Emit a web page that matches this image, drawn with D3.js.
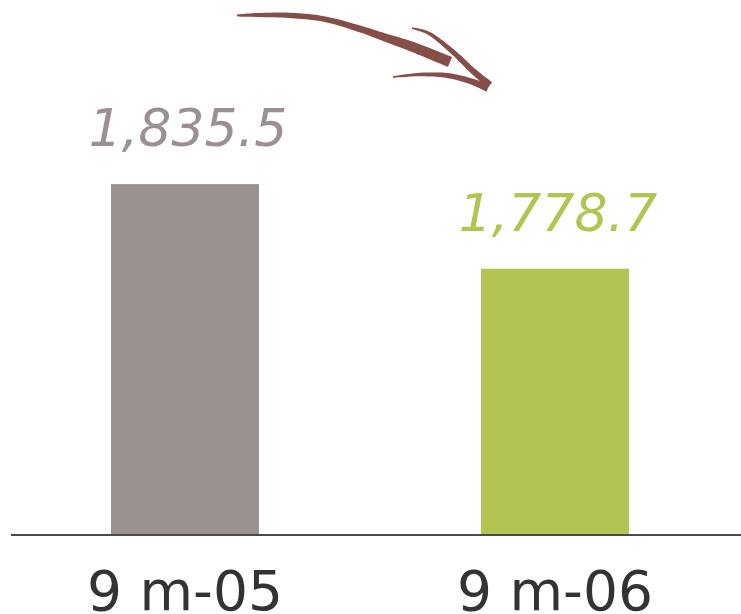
<!DOCTYPE html>
<html>
<head>
<meta charset="utf-8">
<script src="https://cdn.jsdelivr.net/npm/d3@7"></script>
<style>
  html, body { margin: 0; padding: 0; background: #fff; }
  svg { display: block; }
</style>
</head>
<body>
<svg id="chart" width="741" height="614"></svg>
<script>
// Nine-month totals, 2005 vs 2006
const periods = ["9 m-05", "9 m-06"];
const totals = [1835.5, 1778.7];
const barColors = ["#9b9191", "#b3c452"];
const valueLabels = ["1,835.5", "1,778.7"];

const W = 741, H = 614;
const baseY = 535;

const svg = d3.select("#chart");

const x = d3.scaleBand()
  .domain(periods)
  .range([0, 740])
  .paddingInner(0.6)
  .paddingOuter(0.3);

// Value axis starts at 1,600 (truncated), not drawn
const y = d3.scaleLinear()
  .domain([1600, 1900])
  .range([baseY, 88]);

const rows = periods.map((p, i) => ({ p, v: totals[i], c: barColors[i], lab: valueLabels[i] }));

// Bars
svg.append("g").selectAll("rect")
  .data(rows)
  .join("rect")
  .attr("x", d => x(d.p))
  .attr("y", d => y(d.v))
  .attr("width", x.bandwidth())
  .attr("height", d => baseY - y(d.v))
  .attr("fill", d => d.c);

// Value labels above bars
svg.append("g").selectAll("text")
  .data(rows)
  .join("text")
  .attr("x", d => x(d.p) + x.bandwidth() / 2 + 3)
  .attr("y", d => y(d.v) - 38)
  .attr("text-anchor", "middle")
  .attr("font-family", "'DejaVu Sans', Verdana, sans-serif")
  .attr("font-style", "italic")
  .attr("font-size", 52)
  .attr("fill", d => d.c)
  .text(d => d.lab);

// Baseline
svg.append("line")
  .attr("x1", 11).attr("x2", W)
  .attr("y1", baseY).attr("y2", baseY)
  .attr("stroke", "#4a4a4a")
  .attr("stroke-width", 2);

// Category axis
const axis = svg.append("g")
  .attr("transform", `translate(0,${baseY})`)
  .call(d3.axisBottom(x).tickSize(0).tickPadding(0));
axis.select(".domain").remove();
axis.selectAll("text")
  .attr("y", 75)
  .attr("dy", 0)
  .attr("font-family", "'DejaVu Sans', Verdana, sans-serif")
  .attr("font-size", 55)
  .attr("fill", "#333333");

// Hand-drawn style downward arrow between the two bars.
// Each stroke: a smooth centreline (Catmull-Rom) with a varying width.
function catmull(points, widths, steps) {
  const out = [], ws = [];
  const n = points.length;
  for (let i = 0; i < n - 1; i++) {
    const p0 = points[Math.max(0, i - 1)], p1 = points[i],
          p2 = points[i + 1], p3 = points[Math.min(n - 1, i + 2)];
    for (let s = 0; s < steps; s++) {
      const t = s / steps, t2 = t * t, t3 = t2 * t;
      const f = k => 0.5 * ((2 * p1[k]) + (-p0[k] + p2[k]) * t +
        (2 * p0[k] - 5 * p1[k] + 4 * p2[k] - p3[k]) * t2 +
        (-p0[k] + 3 * p1[k] - 3 * p2[k] + p3[k]) * t3);
      out.push([f(0), f(1)]);
      ws.push(widths[i] + (widths[i + 1] - widths[i]) * t);
    }
  }
  out.push(points[n - 1]);
  ws.push(widths[n - 1]);
  return [out, ws];
}

function taper(points, widths) {
  const [pts, w] = catmull(points, widths, 10);
  const n = pts.length;
  const left = [], right = [];
  for (let i = 0; i < n; i++) {
    const a = pts[Math.max(0, i - 1)], b = pts[Math.min(n - 1, i + 1)];
    const dx = b[0] - a[0], dy = b[1] - a[1];
    const len = Math.hypot(dx, dy) || 1;
    const nx = -dy / len, ny = dx / len, h = w[i] / 2;
    left.push([pts[i][0] + nx * h, pts[i][1] + ny * h]);
    right.push([pts[i][0] - nx * h, pts[i][1] - ny * h]);
  }
  return left.concat(right.reverse());
}

const arrowOrigin = [x(periods[0]) + x.bandwidth() / 2 + 52, 15];
const strokes = [
  { pts: [[0, 0.5], [21, 0], [55, 0.5], [88, 4.2], [121, 13.3], [148, 22.5], [176, 32], [213, 47]],
    w: [2, 4, 5.5, 5.5, 6.5, 8, 10, 11] },
  { pts: [[175, 13], [193, 19], [216, 37], [236, 56], [253, 70]],
    w: [1.5, 3.5, 5, 6, 7] },
  { pts: [[156, 62], [183, 59.5], [210, 60.5], [233, 66], [251, 73]],
    w: [1.5, 3.5, 5, 6, 8] }
];

const arrow = svg.append("g")
  .attr("transform", `translate(${arrowOrigin[0]},${arrowOrigin[1]})`)
  .attr("fill", "#854e49");

const outline = d3.line().curve(d3.curveLinearClosed);
strokes.forEach(s => {
  arrow.append("path").attr("d", outline(taper(s.pts, s.w)));
});
</script>
</body>
</html>
